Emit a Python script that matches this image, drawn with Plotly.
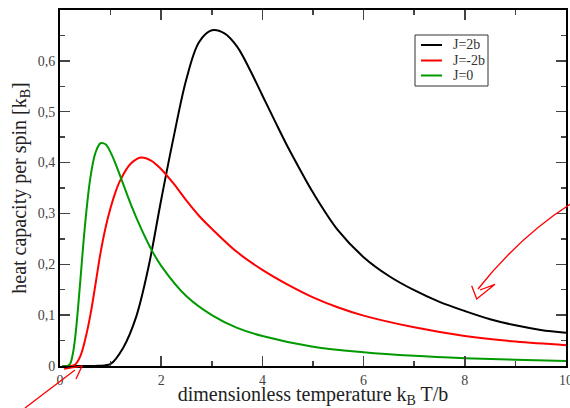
import plotly.graph_objects as go

# ---- data ----
t_j0 = [0.05, 0.15, 0.2, 0.25, 0.3, 0.35, 0.4, 0.5, 0.6, 0.7, 0.8, 0.9, 1.0, 1.1, 1.2,
        1.4, 1.6, 1.8, 2.0, 2.5, 3.0, 3.5, 4.0, 5.0, 6.0, 7.0, 8.0, 9.0, 10.0]
c_j0 = [0.0, 0.0003, 0.0045, 0.022, 0.056, 0.107, 0.166, 0.283, 0.370, 0.419, 0.438,
        0.436, 0.420, 0.397, 0.371, 0.318, 0.271, 0.230, 0.197, 0.137, 0.100, 0.075,
        0.059, 0.038, 0.027, 0.020, 0.0154, 0.0122, 0.0099]

t_jm2 = [0.05, 0.2, 0.3, 0.4, 0.5, 0.6, 0.7, 0.8, 0.9, 1.0, 1.1, 1.2, 1.4, 1.6, 1.8,
         2.0, 2.25, 2.5, 2.75, 3.0, 3.5, 4.0, 4.5, 5.0, 5.5, 6.0, 7.0, 8.0, 9.0, 10.0]
c_jm2 = [0.0, 0.0, 0.003, 0.019, 0.053, 0.100, 0.160, 0.222, 0.272, 0.311, 0.343,
         0.367, 0.398, 0.410, 0.404, 0.387, 0.358, 0.325, 0.295, 0.270, 0.224, 0.189,
         0.160, 0.135, 0.115, 0.099, 0.076, 0.059, 0.048, 0.041]

t_j2 = [0.05, 0.5, 0.75, 1.0, 1.25, 1.5, 1.75, 2.0, 2.25, 2.5, 2.75, 3.0, 3.25, 3.5,
        3.75, 4.0, 4.25, 4.5, 4.75, 5.0, 5.5, 6.0, 6.5, 7.0, 7.5, 8.0, 8.5, 9.0, 9.5, 10.0]
c_j2 = [0.0, 0.0, 0.0005, 0.004, 0.036, 0.095, 0.195, 0.327, 0.452, 0.565, 0.637,
        0.660, 0.654, 0.628, 0.583, 0.532, 0.481, 0.431, 0.385, 0.341, 0.266, 0.214,
        0.177, 0.149, 0.126, 0.108, 0.092, 0.080, 0.071, 0.0656]

x_ticks = [0, 2, 4, 6, 8, 10]
y_ticks = [0, 0.1, 0.2, 0.3, 0.4, 0.5, 0.6]
y_labels = ["0", "0,1", "0,2", "0,3", "0,4", "0,5", "0,6"]

names = ["J=2b", "J=-2b", "J=0"]
colors = ["#000000", "#ff0000", "#009a00"]

W, H = 570, 408
ML, MR, MT, MB = 60, 4, 10, 42
PW, PH = W - ML - MR, H - MT - MB

def px2paper(x, y):
    return (x - ML) / PW, (H - MB - y) / PH

def path(points_cmds):
    out = []
    for cmd, pts in points_cmds:
        coords = " ".join(f"{px2paper(x, y)[0]:.4f},{px2paper(x, y)[1]:.4f}" for x, y in pts)
        out.append(f"{cmd}{coords}")
    return " ".join(out)

FONT = "Liberation Serif, Times New Roman, serif"

fig = go.Figure()
for t, c, n, col in [(t_j2, c_j2, names[0], colors[0]),
                     (t_jm2, c_jm2, names[1], colors[1]),
                     (t_j0, c_j0, names[2], colors[2])]:
    fig.add_trace(go.Scatter(x=t, y=c, mode="lines", name=n, showlegend=False,
                             line=dict(color=col, width=2, shape="spline", smoothing=1.0)))

axis_common = dict(showline=True, linecolor="#000000", linewidth=2, mirror="ticks",
                   ticks="inside", ticklen=10, tickwidth=1.5, tickcolor="#444444",
                   showgrid=False, zeroline=False, ticklabeloverflow="allow",
                   tickfont=dict(family=FONT, size=14, color="#444444"))

fig.update_xaxes(range=[0, 10], tickvals=x_ticks, ticktext=[str(v) for v in x_ticks],
                 minor=dict(ticks="inside", ticklen=5, dtick=1, tickwidth=1.5,
                            tickcolor="#444444", showgrid=False),
                 title=dict(text="dimensionless temperature k<sub>B</sub> T/b",
                            font=dict(family=FONT, size=20, color="#222222"), standoff=3),
                 **axis_common)
fig.update_yaxes(range=[0, 0.7], tickvals=y_ticks, ticktext=y_labels,
                 minor=dict(ticks="inside", ticklen=5, dtick=0.05, tickwidth=1.5,
                            tickcolor="#444444", showgrid=False),
                 title=dict(text="heat capacity per spin [k<sub>B</sub>]",
                            font=dict(family=FONT, size=20, color="#222222"), standoff=6),
                 **axis_common)

arrow_right = path([("M", [(572, 203)]),
                    ("Q", [(520, 236), (478, 289)]),
                    ("M", [(471.7, 285.7)]),
                    ("L", [(476.7, 299)]),
                    ("L", [(495, 284.3)]),
                    ("L", [(480, 290)])])
arrow_left = path([("M", [(25, 408)]),
                   ("L", [(75, 370)]),
                   ("M", [(64, 369)]),
                   ("L", [(82, 366)]),
                   ("L", [(76, 379)])])

shapes = [dict(type="path", path=arrow_right, xref="paper", yref="paper",
               line=dict(color="#ff0000", width=1.3)),
          dict(type="path", path=arrow_left, xref="paper", yref="paper",
               line=dict(color="#ff0000", width=1.3))]

# legend box drawn by hand (to keep the compact row spacing of the reference)
bx0, by0 = px2paper(415, 86)
bx1, by1 = px2paper(488, 35)
shapes.append(dict(type="rect", xref="paper", yref="paper", x0=bx0, y0=by0, x1=bx1, y1=by1,
                   line=dict(color="#333333", width=1), fillcolor="white", layer="above"))
annotations = []
row_y = [45, 60.5, 75.5]
for n, col, ry in zip(names, colors, row_y):
    lx0, ly = px2paper(421, ry)
    lx1, _ = px2paper(442, ry)
    shapes.append(dict(type="line", xref="paper", yref="paper", x0=lx0, x1=lx1, y0=ly, y1=ly,
                       line=dict(color=col, width=2), layer="above"))
    tx, ty = px2paper(451, ry)
    annotations.append(dict(text=n, xref="paper", yref="paper", x=tx, y=ty,
                            xanchor="left", yanchor="middle", showarrow=False,
                            font=dict(family=FONT, size=14, color="#333333")))

fig.update_layout(
    width=W, height=H,
    margin=dict(l=ML, r=MR, t=MT, b=MB, autoexpand=False),
    paper_bgcolor="white", plot_bgcolor="white",
    font=dict(family=FONT, size=14, color="#222222"),
    showlegend=False,
    hovermode=False,
    shapes=shapes,
    annotations=annotations,
)

fig.write_html(
    "out.html",
    config={"displayModeBar": False, "staticPlot": True},
    post_script="document.body.style.margin='0';document.body.style.padding='0';"
                "document.body.style.overflow='hidden';"
                "document.documentElement.style.overflow='hidden';",
)
